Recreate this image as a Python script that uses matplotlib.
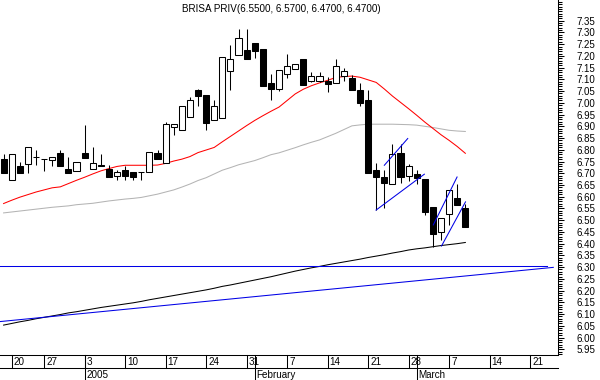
import matplotlib
matplotlib.use("Agg")
import matplotlib.pyplot as plt
import matplotlib.transforms as mtransforms
from matplotlib.lines import Line2D
from matplotlib.ticker import MultipleLocator, FixedLocator, FormatStrFormatter
import numpy as np

plt.rcParams['font.family'] = ['Liberation Sans', 'DejaVu Sans']

title = "BRISA PRIV(6.5500, 6.5700, 6.4700, 6.4700)"

# daily candles, one per trading day (index 0 = Dec 17 2004)
opens = [6.76, 6.67, 6.73, 6.74, 6.77, 6.76, 6.755, 6.785, 6.72, 6.71,
         6.785, 6.72, 6.735, 6.72, 6.69, 6.715, 6.705, 6.705, 6.705, 6.785,
         6.745, 6.895, 6.885, 6.94, 7.055, 7.035, 6.925, 6.935, 7.135, 7.205,
         7.225, 7.255, 7.23, 7.085, 7.06, 7.125, 7.145, 7.185, 7.095, 7.095,
         7.095, 7.085, 7.115, 7.105, 7.055, 7.01, 6.715, 6.685, 6.655, 6.785,
         6.69, 6.695, 6.675, 6.555, 6.45, 6.525, 6.595, 6.55]
highs = [6.78, 6.78, 6.75, 6.81, 6.80, 6.76, 6.77, 6.80, 6.77, 6.75,
         6.905, 6.81, 6.78, 6.735, 6.715, 6.73, 6.705, 6.705, 6.79, 6.80,
         6.92, 6.91, 6.985, 7.025, 7.06, 7.035, 7.01, 7.195, 7.245, 7.315,
         7.315, 7.255, 7.23, 7.125, 7.14, 7.21, 7.165, 7.185, 7.13, 7.13,
         7.11, 7.185, 7.15, 7.12, 7.085, 7.055, 6.745, 6.715, 6.825, 6.825,
         6.74, 6.715, 6.675, 6.555, 6.51, 6.63, 6.655, 6.57]
lows = [6.70, 6.67, 6.70, 6.70, 6.735, 6.71, 6.73, 6.73, 6.70, 6.71,
        6.765, 6.72, 6.73, 6.685, 6.67, 6.67, 6.67, 6.67, 6.705, 6.76,
        6.745, 6.865, 6.885, 6.94, 6.985, 6.885, 6.925, 6.935, 7.055, 7.205,
        7.185, 7.19, 7.07, 7.01, 7.05, 7.105, 7.145, 7.075, 7.09, 7.09,
        7.045, 7.085, 7.095, 7.055, 6.985, 6.70, 6.545, 6.55, 6.655, 6.66,
        6.665, 6.655, 6.52, 6.385, 6.415, 6.48, 6.565, 6.47]
closes = [6.70, 6.78, 6.70, 6.81, 6.77, 6.76, 6.77, 6.73, 6.70, 6.75,
          6.765, 6.745, 6.73, 6.685, 6.705, 6.69, 6.685, 6.705, 6.79, 6.76,
          6.91, 6.91, 6.985, 7.01, 7.03, 6.915, 6.985, 7.195, 7.185, 7.275,
          7.185, 7.22, 7.07, 7.06, 7.14, 7.155, 7.165, 7.075, 7.115, 7.115,
          7.08, 7.155, 7.135, 7.055, 7.00, 6.70, 6.685, 6.66, 6.78, 6.685,
          6.73, 6.68, 6.535, 6.44, 6.51, 6.63, 6.565, 6.47]

# moving averages
ma_red = [6.571, 6.585, 6.598, 6.609, 6.620, 6.629, 6.638, 6.642, 6.656, 6.670,
          6.683, 6.697, 6.710, 6.720, 6.729, 6.734, 6.734, 6.734, 6.734, 6.735,
          6.742, 6.752, 6.760, 6.771, 6.788, 6.799, 6.810, 6.834, 6.857, 6.880,
          6.903, 6.925, 6.945, 6.964, 6.982, 7.010, 7.038, 7.058, 7.073, 7.085,
          7.096, 7.108, 7.112, 7.114, 7.109, 7.098, 7.087, 7.059, 7.029, 7.002,
          6.975, 6.947, 6.918, 6.891, 6.864, 6.840, 6.814, 6.785]
ma_gray = [6.531, 6.535, 6.539, 6.543, 6.547, 6.551, 6.555, 6.558, 6.561, 6.566,
           6.569, 6.572, 6.577, 6.582, 6.586, 6.590, 6.593, 6.597, 6.604, 6.611,
           6.620, 6.629, 6.641, 6.654, 6.669, 6.681, 6.697, 6.713, 6.724, 6.736,
           6.745, 6.754, 6.766, 6.779, 6.787, 6.798, 6.809, 6.821, 6.832, 6.842,
           6.856, 6.870, 6.886, 6.902, 6.906, 6.909, 6.909, 6.909, 6.909, 6.908,
           6.907, 6.905, 6.900, 6.895, 6.889, 6.883, 6.880, 6.878]
ma_black = [6.053, 6.060, 6.067, 6.073, 6.080, 6.086, 6.092, 6.098, 6.105, 6.110,
            6.116, 6.122, 6.128, 6.133, 6.138, 6.143, 6.148, 6.154, 6.161, 6.167,
            6.173, 6.179, 6.185, 6.191, 6.197, 6.203, 6.210, 6.218, 6.224, 6.231,
            6.238, 6.245, 6.252, 6.259, 6.267, 6.275, 6.283, 6.290, 6.297, 6.303,
            6.310, 6.316, 6.322, 6.328, 6.334, 6.341, 6.347, 6.353, 6.360, 6.366,
            6.373, 6.378, 6.382, 6.387, 6.392, 6.396, 6.400, 6.405]

# hand drawn lines: (bar index pair, price pair)
support_x = [-0.44, 67.05]
support_y = [6.305, 6.305]
trend_x = [-0.44, 67.86]
trend_y = [6.068, 6.299]
channel_x = [[45.98, 51.94], [47.0, 49.89], [53.05, 55.98], [54.06, 57.02]]
channel_y = [[6.543, 6.696], [6.734, 6.848], [6.48, 6.684], [6.39, 6.578]]

# date axis
day_ticks = [1, 5, 10, 15, 20, 25, 30, 35, 40, 45, 50, 55, 60, 65]
day_labels = ["20", "27", "3", "10", "17", "24", "31", "7", "14", "21", "28", "7", "14", "21"]
month_ticks = [10, 31, 51]
month_labels = ["2005", "February", "March"]

fig = plt.figure(figsize=(6, 3.8), dpi=100)
ax = fig.add_axes([0, 25 / 380, 558 / 600, 355 / 380])

lw = 0.75
idx = np.arange(len(opens))
o = np.array(opens)
c = np.array(closes)
up = c >= o

ax.plot(idx, ma_gray, color='#b4b4b4', lw=lw, zorder=2)
ax.plot(idx, ma_red, color='#ff0000', lw=lw, zorder=2)
ax.plot(idx, ma_black, color='black', lw=lw, zorder=2)

ax.vlines(idx, lows, highs, color='black', lw=lw, zorder=3)
ax.bar(idx[up], (c - o)[up], bottom=o[up], width=0.75, facecolor='white',
       edgecolor='black', lw=lw, zorder=4)
ax.bar(idx[~up], (o - c)[~up], bottom=c[~up], width=0.75, facecolor='black',
       edgecolor='black', lw=lw, zorder=4)

blue = '#0000e6'
ax.plot(support_x, support_y, color=blue, lw=lw, zorder=5)
ax.plot(trend_x, trend_y, color=blue, lw=lw, zorder=5)
for xs, ys in zip(channel_x, channel_y):
    ax.plot(xs, ys, color=blue, lw=lw, zorder=5)

ax.set_xlim(-0.444, 68.44)
ax.set_ylim(5.9256, 7.4382)

for s in ['top', 'left']:
    ax.spines[s].set_visible(False)
for s in ['bottom', 'right']:
    ax.spines[s].set_linewidth(lw)

ax.set_xticks([])
ax.yaxis.tick_right()
ax.yaxis.set_major_locator(FixedLocator(np.round(np.arange(5.95, 7.351, 0.05), 2)))
ax.yaxis.set_major_formatter(FormatStrFormatter('%.2f'))
ax.yaxis.set_minor_locator(MultipleLocator(0.01))
ax.tick_params(axis='y', which='major', length=4.3, width=lw, pad=9, labelsize=7)
ax.tick_params(axis='y', which='minor', length=2.9, width=lw)

ax.text(0.505, 1 - 9.5 / 355, title, transform=ax.transAxes, ha='center',
        va='center', fontsize=7.1)

# two-row date scale under the plot
trans = mtransforms.blended_transform_factory(ax.transData, fig.transFigure)
ttrans = mtransforms.offset_copy(trans, fig=fig, x=2, y=0, units='dots')
y_axis = 1 - 355 / 380
y_mid = 1 - 368 / 380
fig.add_artist(Line2D([0, 558 / 600], [y_mid, y_mid], color='black', lw=lw))
for t, lab in zip(day_ticks, day_labels):
    ax.add_line(Line2D([t, t], [y_axis, y_mid], transform=trans, color='black',
                       lw=lw, clip_on=False))
    ax.text(t, 1 - 362 / 380, lab, transform=ttrans, ha='left', va='center',
            fontsize=7.1, clip_on=False)
for t, lab in zip(month_ticks, month_labels):
    ax.add_line(Line2D([t, t], [y_axis, 0], transform=trans, color='black',
                       lw=lw, clip_on=False))
    ax.text(t, 1 - 375 / 380, lab, transform=ttrans, ha='left', va='center',
            fontsize=7.1, clip_on=False)

fig.savefig('out.png', dpi=100)
